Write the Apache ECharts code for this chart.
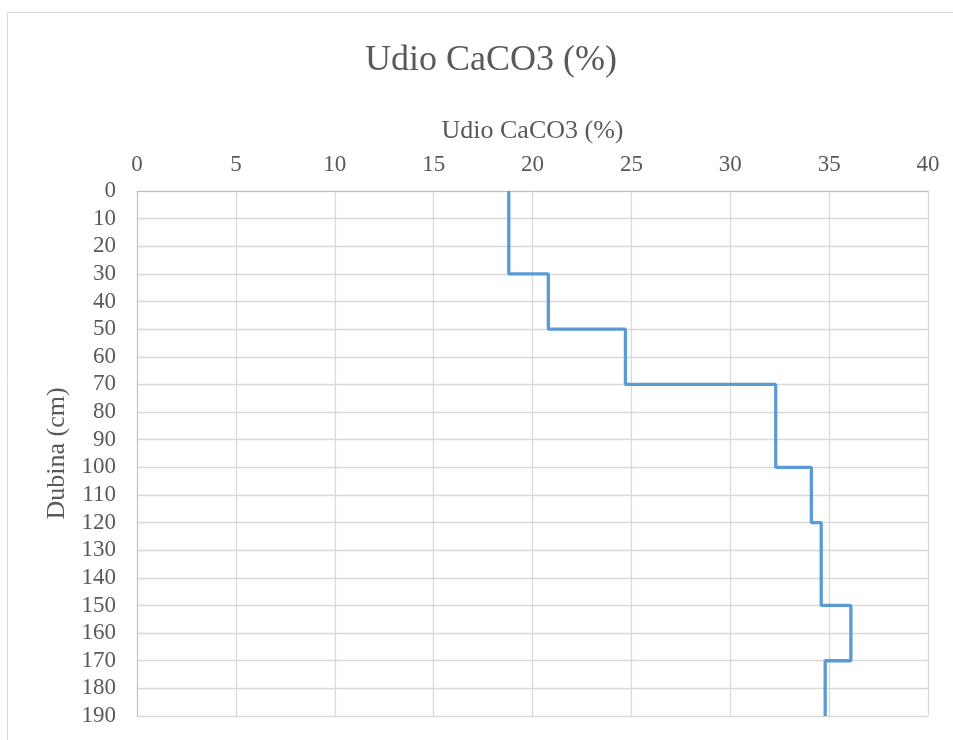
<!DOCTYPE html>
<html>
<head>
<meta charset="utf-8">
<script src="https://cdn.jsdelivr.net/npm/echarts@6/dist/echarts.min.js"></script>
<style>
html,body{margin:0;padding:0;background:#fff;}
#chart{width:953px;height:740px;}
</style>
</head>
<body>
<div id="chart"></div>
<script>
// Data
const depthTop = [0, 30, 50, 70, 100, 120, 150, 170];
const depthBottom = [30, 50, 70, 100, 120, 150, 170, 190];
const caco3 = [18.8, 20.8, 24.7, 32.3, 34.1, 34.6, 36.1, 34.8];
const xTicks = [0, 5, 10, 15, 20, 25, 30, 35, 40];
const yTicks = [0,10,20,30,40,50,60,70,80,90,100,110,120,130,140,150,160,170,180,190];

const points = [];
for (let i = 0; i < caco3.length; i++) {
  points.push([caco3[i], depthTop[i]]);
  points.push([caco3[i], depthBottom[i]]);
}

const FONT = '"Liberation Serif", "Times New Roman", serif';
const chart = echarts.init(document.getElementById('chart'), null, {renderer: 'canvas'});
chart.setOption({
  backgroundColor: '#fff',
  animation: false,
  title: {
    text: 'Udio CaCO3 (%)',
    left: 360,
    top: 38,
    textStyle: {fontFamily: FONT, fontSize: 36, fontWeight: 'normal', color: '#595959'}
  },
  graphic: [{
    type: 'rect',
    shape: {x: 7.5, y: 12.5, width: 1000, height: 800},
    style: {fill: 'none', stroke: '#d9d9d9', lineWidth: 1},
    silent: true
  }],
  grid: {left: 137, right: 25, top: 191, bottom: 24},
  xAxis: {
    type: 'value',
    position: 'top',
    min: xTicks[0],
    max: xTicks[xTicks.length - 1],
    interval: 5,
    name: 'Udio CaCO3 (%)',
    nameLocation: 'middle',
    nameGap: 47,
    nameTextStyle: {fontFamily: FONT, fontSize: 26, color: '#595959'},
    axisLine: {show: true, lineStyle: {color: '#bfbfbf', width: 1}},
    axisTick: {show: false},
    axisLabel: {fontFamily: FONT, fontSize: 23, color: '#595959', margin: 15},
    splitLine: {show: true, lineStyle: {color: '#d9d9d9', width: 1.3}}
  },
  yAxis: {
    type: 'value',
    inverse: true,
    min: yTicks[0],
    max: yTicks[yTicks.length - 1],
    interval: 10,
    name: 'Dubina (cm)',
    nameLocation: 'middle',
    nameGap: 66,
    nameRotate: 90,
    nameTextStyle: {fontFamily: FONT, fontSize: 26, color: '#595959'},
    axisLine: {show: true, lineStyle: {color: '#bfbfbf', width: 1}},
    axisTick: {show: false},
    axisLabel: {fontFamily: FONT, fontSize: 23, color: '#595959', margin: 21},
    splitLine: {show: true, lineStyle: {color: '#d9d9d9', width: 1.3}}
  },
  series: [{
    type: 'line',
    data: points,
    showSymbol: false,
    symbol: 'none',
    lineStyle: {color: '#5b9bd5', width: 3.3},
    z: 5
  }]
});
</script>
</body>
</html>
